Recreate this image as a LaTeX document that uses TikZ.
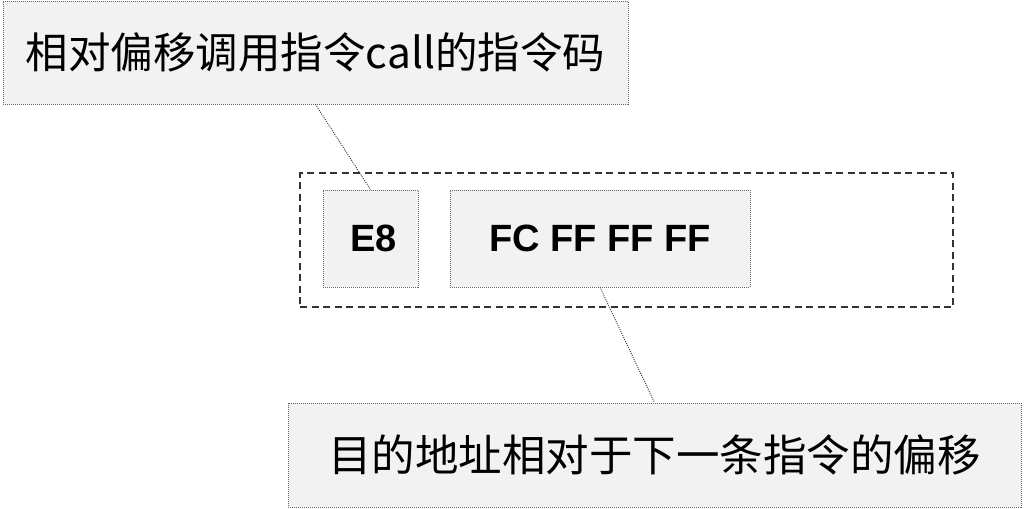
\documentclass[tikz,border=0pt]{standalone}
\usepackage{fontspec}
\setmainfont{Liberation Sans}
\newfontfamily\cjk{Noto Sans CJK SC}
\begin{document}
\begin{tikzpicture}[x=1pt,y=-1pt,
  lbl/.style={draw=black!60, fill=black!5, line width=0.8pt, dash pattern=on 1pt off 1pt, inner sep=0pt, font=\cjk\fontsize{43.5}{50}\selectfont},
  byte/.style={draw=black!60, fill=black!5, line width=0.8pt, dash pattern=on 1pt off 1pt, inner sep=0pt, font=\bfseries\fontsize{38}{44}\selectfont},
  conn/.style={draw=black!80, line width=0.9pt, dash pattern=on 1pt off 1.2pt}]
\useasboundingbox (0,0) rectangle (1024,508);
\node[draw=black!80, line width=1.2pt, dash pattern=on 7pt off 4.5pt, minimum width=653pt, minimum height=134pt, inner sep=0pt] (frame) at (626.5,240) {};
\node[byte, minimum width=95pt, minimum height=97pt] (e8) at (370.5,238.5) {\hspace{6pt}E8};
\node[byte, minimum width=300pt, minimum height=97pt] (fc) at (600,238.5) {FC FF FF FF};
\node[lbl, minimum width=625pt, minimum height=103pt, font=\cjk\fontsize{42.5}{50}\selectfont] (top) at (315.5,52.5) {\raisebox{-2pt}{相对偏移调用指令call的指令码}};
\node[lbl, minimum width=733pt, minimum height=104pt] (bot) at (654.5,455) {\raisebox{-3pt}{目的地址相对于下一条指令的偏移}};
\draw[conn] (top.south) -- (e8.north);
\draw[conn] (fc.south) -- (bot.north);
\end{tikzpicture}
\end{document}
